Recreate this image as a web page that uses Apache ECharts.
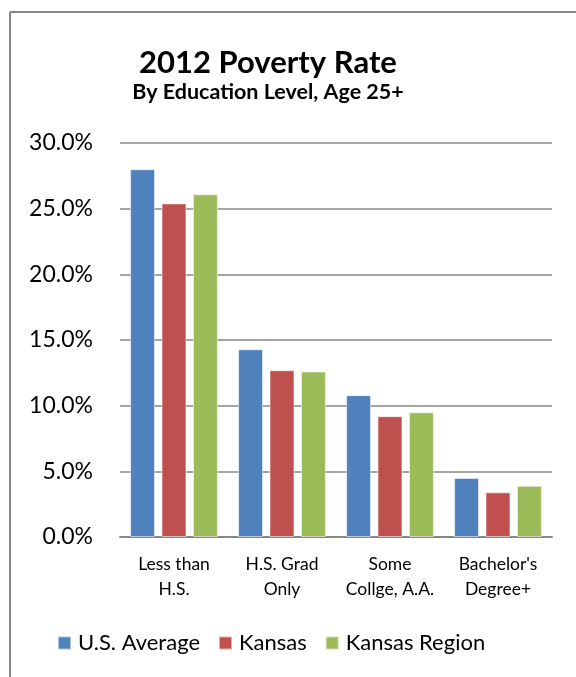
<!DOCTYPE html>
<html>
<head>
<meta charset="utf-8">
<script src="https://cdn.jsdelivr.net/npm/echarts@6/dist/echarts.min.js"></script>
<style>
html,body{margin:0;padding:0;background:#fff;}
#chart{width:576px;height:677px;}
</style>
</head>
<body>
<div id="chart"></div>
<script>
var categories = ["Less than\nH.S.", "H.S. Grad\nOnly", "Some\nCollge, A.A.", "Bachelor's\nDegree+"];
var usAverage = [28.0, 14.3, 10.8, 4.5];
var kansas = [25.4, 12.7, 9.2, 3.4];
var kansasRegion = [26.1, 12.6, 9.5, 3.9];
var seriesNames = ["U.S. Average", "Kansas", "Kansas Region"];
var titleText = "2012 Poverty Rate";
var subtitleText = "By Education Level, Age 25+";

var FONT = "Lato, 'Open Sans', sans-serif";
var chart = echarts.init(document.getElementById('chart'));
var barStyle = function (c) {
  return { color: c, borderColor: 'rgba(255,255,255,0.55)', borderWidth: 1 };
};
chart.setOption({
  animation: false,
  graphic: [
    { type: 'line', shape: { x1: 10, y1: 12, x2: 576, y2: 12 }, style: { stroke: '#878787', lineWidth: 2 } },
    { type: 'line', shape: { x1: 10, y1: 12, x2: 10, y2: 677 }, style: { stroke: '#878787', lineWidth: 2 } },
    { type: 'text', x: 268, y: 63, style: { text: titleText, textAlign: 'center', textVerticalAlign: 'middle', font: "bold 31px " + FONT, fill: '#000' } },
    { type: 'text', x: 268, y: 92, style: { text: subtitleText, textAlign: 'center', textVerticalAlign: 'middle', font: "bold 21.5px " + FONT, fill: '#000' } }
  ],
  legend: {
    left: 52, top: 627,
    itemWidth: 13, itemHeight: 13, itemGap: 18,
    icon: 'rect',
    data: seriesNames,
    textStyle: { fontFamily: FONT, fontSize: 22, color: '#000', padding: [0, 0, 0, 2] }
  },
  grid: { left: 120, right: 24, top: 143, bottom: 140, containLabel: false },
  xAxis: {
    type: 'category',
    data: categories,
    axisLine: { lineStyle: { color: '#878787', width: 2 } },
    axisTick: { show: false },
    axisLabel: { margin: 15, color: '#000', fontFamily: FONT, fontSize: 17.5, lineHeight: 25, interval: 0 }
  },
  yAxis: {
    type: 'value', min: 0, max: 30, interval: 5,
    axisLine: { show: false },
    axisTick: { show: false },
    splitLine: { lineStyle: { color: '#878787', width: 1.5 } },
    axisLabel: { margin: 27, color: '#000', fontFamily: FONT, fontSize: 23, formatter: function (v) { return v.toFixed(1) + '%'; } }
  },
  series: [
    { name: seriesNames[0], type: 'bar', data: usAverage, itemStyle: barStyle('#4F81BD'), barGap: '26%', barCategoryGap: '18.7%' },
    { name: seriesNames[1], type: 'bar', data: kansas, itemStyle: barStyle('#C0504D') },
    { name: seriesNames[2], type: 'bar', data: kansasRegion, itemStyle: barStyle('#9BBB59') }
  ]
});
</script>
</body>
</html>
